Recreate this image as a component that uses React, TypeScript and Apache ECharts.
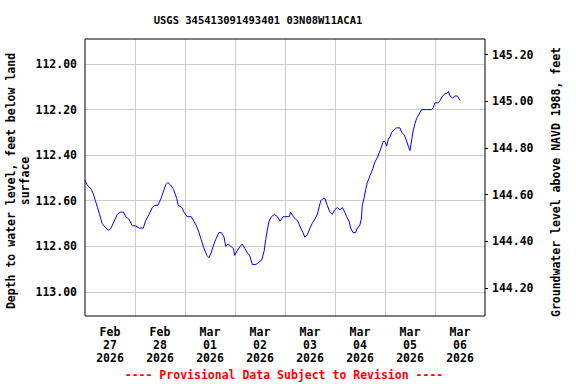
import React, { useEffect, useRef } from "react";
import * as echarts from "echarts";

const TITLE = "USGS 345413091493401 03N08W11ACA1";
const LEFT_NAME = "Depth to water level, feet below land\nsurface";
const RIGHT_NAME = "Groundwater level above NAVD 1988, feet";
const FOOTER = "---- Provisional Data Subject to Revision ----";

const X_LABELS = [
  "Feb\n27\n2026", "Feb\n28\n2026", "Mar\n01\n2026", "Mar\n02\n2026",
  "Mar\n03\n2026", "Mar\n04\n2026", "Mar\n05\n2026", "Mar\n06\n2026",
];
const START = "2026-02-27 00:00";
const END = "2026-03-07 00:00";
const LEFT_TICKS = [112.0, 112.2, 112.4, 112.6, 112.8, 113.0];
const RIGHT_TICKS = [144.2, 144.4, 144.6, 144.8, 145.0, 145.2];
const LEFT_RANGE = [111.89, 113.106];
const RIGHT_RANGE = [144.079, 145.2675];

const TIMES = [
  "2026-02-27 00:00", "2026-02-27 01:00", "2026-02-27 03:00", "2026-02-27 04:00", "2026-02-27 05:00",
  "2026-02-27 06:00", "2026-02-27 07:00", "2026-02-27 08:15", "2026-02-27 10:00", "2026-02-27 11:30",
  "2026-02-27 12:30", "2026-02-27 14:00", "2026-02-27 15:30", "2026-02-27 17:00", "2026-02-27 18:30",
  "2026-02-27 19:30", "2026-02-27 21:00", "2026-02-27 22:45", "2026-02-28 00:15", "2026-02-28 02:00",
  "2026-02-28 04:00", "2026-02-28 05:00", "2026-02-28 06:45", "2026-02-28 08:15", "2026-02-28 09:30",
  "2026-02-28 11:00", "2026-02-28 12:30", "2026-02-28 14:00", "2026-02-28 14:45", "2026-02-28 15:45",
  "2026-02-28 17:00", "2026-02-28 18:30", "2026-02-28 20:00", "2026-02-28 20:45", "2026-02-28 22:30",
  "2026-02-28 23:30", "2026-03-01 01:00", "2026-03-01 03:00", "2026-03-01 04:15", "2026-03-01 05:30",
  "2026-03-01 06:45", "2026-03-01 07:45", "2026-03-01 08:45", "2026-03-01 10:30", "2026-03-01 11:30",
  "2026-03-01 12:30", "2026-03-01 13:30", "2026-03-01 14:45", "2026-03-01 16:15", "2026-03-01 17:30",
  "2026-03-01 18:45", "2026-03-01 19:30", "2026-03-01 20:40", "2026-03-01 22:00", "2026-03-01 23:15",
  "2026-03-01 23:50", "2026-03-02 01:00", "2026-03-02 02:30", "2026-03-02 03:30", "2026-03-02 04:45",
  "2026-03-02 06:00", "2026-03-02 07:00", "2026-03-02 08:20", "2026-03-02 10:00", "2026-03-02 11:30",
  "2026-03-02 12:50", "2026-03-02 14:00", "2026-03-02 14:45", "2026-03-02 15:30", "2026-03-02 16:20",
  "2026-03-02 17:30", "2026-03-02 19:00", "2026-03-02 20:20", "2026-03-02 21:35", "2026-03-02 23:10",
  "2026-03-03 02:00", "2026-03-03 02:45", "2026-03-03 04:00", "2026-03-03 05:00", "2026-03-03 06:15",
  "2026-03-03 07:30", "2026-03-03 08:40", "2026-03-03 09:30", "2026-03-03 10:40", "2026-03-03 12:00",
  "2026-03-03 13:00", "2026-03-03 14:25", "2026-03-03 15:30", "2026-03-03 16:20", "2026-03-03 17:10",
  "2026-03-03 18:15", "2026-03-03 19:10", "2026-03-03 20:15", "2026-03-03 21:35", "2026-03-03 22:40",
  "2026-03-03 23:50", "2026-03-04 01:05", "2026-03-04 02:25", "2026-03-04 03:30", "2026-03-04 04:40",
  "2026-03-04 05:35", "2026-03-04 06:45", "2026-03-04 07:30", "2026-03-04 08:40", "2026-03-04 09:55",
  "2026-03-04 10:40", "2026-03-04 11:50", "2026-03-04 12:40", "2026-03-04 13:05", "2026-03-04 13:55",
  "2026-03-04 14:45", "2026-03-04 15:30", "2026-03-04 16:50", "2026-03-04 18:05", "2026-03-04 19:10",
  "2026-03-04 20:20", "2026-03-04 21:15", "2026-03-04 22:25", "2026-03-04 23:10", "2026-03-05 00:00",
  "2026-03-05 00:50", "2026-03-05 01:35", "2026-03-05 02:25", "2026-03-05 03:10", "2026-03-05 04:20",
  "2026-03-05 05:35", "2026-03-05 07:10", "2026-03-05 08:00", "2026-03-05 09:10", "2026-03-05 10:05",
  "2026-03-05 11:10", "2026-03-05 12:00", "2026-03-05 12:50", "2026-03-05 13:35", "2026-03-05 14:25",
  "2026-03-05 15:10", "2026-03-05 16:20", "2026-03-05 17:35", "2026-03-05 20:00", "2026-03-05 22:25",
  "2026-03-05 23:10", "2026-03-06 00:00", "2026-03-06 01:35", "2026-03-06 02:25", "2026-03-06 03:40",
  "2026-03-06 04:50", "2026-03-06 05:35", "2026-03-06 06:25", "2026-03-06 07:10", "2026-03-06 08:30",
  "2026-03-06 09:35", "2026-03-06 10:45", "2026-03-06 12:00",
];

const DEPTH_FT = [
  112.51, 112.53, 112.55, 112.57, 112.60,
  112.63, 112.66, 112.70, 112.72, 112.73,
  112.72, 112.69, 112.66, 112.65, 112.65,
  112.67, 112.68, 112.71, 112.71, 112.72,
  112.72, 112.69, 112.66, 112.63, 112.62,
  112.62, 112.59, 112.55, 112.53, 112.52,
  112.53, 112.55, 112.59, 112.62, 112.63,
  112.65, 112.67, 112.67, 112.69, 112.71,
  112.74, 112.77, 112.80, 112.84, 112.85,
  112.83, 112.80, 112.77, 112.74, 112.74,
  112.76, 112.80, 112.79, 112.80, 112.81,
  112.84, 112.82, 112.80, 112.79, 112.81,
  112.83, 112.84, 112.88, 112.88, 112.87,
  112.86, 112.82, 112.77, 112.73, 112.69,
  112.67, 112.66, 112.67, 112.69, 112.67,
  112.67, 112.65, 112.67, 112.68, 112.69,
  112.72, 112.74, 112.76, 112.75, 112.72,
  112.70, 112.68, 112.66, 112.63, 112.60,
  112.59, 112.59, 112.62, 112.65, 112.66,
  112.64, 112.63, 112.64, 112.63, 112.65,
  112.67, 112.69, 112.72, 112.74, 112.74,
  112.72, 112.71, 112.68, 112.62, 112.59,
  112.55, 112.52, 112.49, 112.46, 112.43,
  112.41, 112.39, 112.36, 112.34, 112.34,
  112.36, 112.33, 112.32, 112.30, 112.29,
  112.28, 112.28, 112.30, 112.31, 112.33,
  112.36, 112.38, 112.33, 112.29, 112.26,
  112.24, 112.22, 112.20, 112.20, 112.20,
  112.19, 112.17, 112.17, 112.16, 112.14,
  112.13, 112.13, 112.12, 112.14, 112.15,
  112.14, 112.14, 112.16,
];

const FONT = "'DejaVu Sans Mono', 'Liberation Mono', monospace";

function toMs(t: string): number {
  const [d, hm] = t.split(" ");
  const [y, mo, da] = d.split("-").map(Number);
  const [h, mi] = hm.split(":").map(Number);
  return Date.UTC(y, mo - 1, da, h, mi);
}
function hoursFromStart(t: string): number {
  return (toMs(t) - toMs(START)) / 3600000;
}
function isTick(v: number, ticks: number[]): boolean {
  return ticks.some((t) => Math.abs(t - v) < 1e-6);
}

export default function App() {
  const ref = useRef<HTMLDivElement>(null);
  useEffect(() => {
    if (!ref.current) return;
    const chart = echarts.init(ref.current, null, { renderer: "svg" });
    const data = TIMES.map((t, i) => [hoursFromStart(t), DEPTH_FT[i]]);
    const totalHours = hoursFromStart(END);
    const textBase = { fontFamily: FONT, fontWeight: "bold", fill: "#000" };
    chart.setOption({
      animation: false,
      backgroundColor: "#fff",
      grid: {
        left: 85,
        right: 91,
        top: 39,
        bottom: 68,
        show: true,
        borderColor: "#000",
        borderWidth: 1,
        backgroundColor: "transparent",
        z: 10,
      },
      xAxis: [
        {
          type: "value",
          min: 0,
          max: totalHours,
          interval: 24,
          axisLine: { show: false },
          axisTick: { show: false },
          axisLabel: { show: false },
          splitLine: { show: true, showMinLine: false, showMaxLine: false, lineStyle: { color: "#cccccc", width: 1 } },
        },
        {
          type: "category",
          data: X_LABELS,
          boundaryGap: true,
          position: "bottom",
          axisLine: { show: false },
          axisTick: { show: false },
          splitLine: { show: false },
          axisLabel: {
            interval: 0,
            margin: 9,
            color: "#000",
            fontFamily: FONT,
            fontWeight: "bold",
            fontSize: 11.5,
            lineHeight: 13,
          },
        },
      ],
      yAxis: [
        {
          type: "value",
          position: "left",
          inverse: true,
          min: LEFT_RANGE[0],
          max: LEFT_RANGE[1],
          splitNumber: 6,
          axisLine: { show: false },
          axisTick: { show: false },
          splitLine: { show: true, showMinLine: false, showMaxLine: false, lineStyle: { color: "#cccccc", width: 1 } },
          axisLabel: {
            showMinLabel: false,
            showMaxLabel: false,
            margin: 8,
            color: "#000",
            fontFamily: FONT,
            fontWeight: "bold",
            fontSize: 11.5,
            formatter: (v: number) => (isTick(v, LEFT_TICKS) ? v.toFixed(2) : ""),
          },
        },
        {
          type: "value",
          position: "right",
          min: RIGHT_RANGE[0],
          max: RIGHT_RANGE[1],
          splitNumber: 6,
          axisLine: { show: false },
          axisTick: {
            show: true,
            inside: false,
            length: 3,
            customValues: RIGHT_TICKS,
            lineStyle: { color: "#000", width: 1 },
          },
          splitLine: { show: false },
          axisLabel: {
            customValues: RIGHT_TICKS,
            showMinLabel: true,
            showMaxLabel: true,
            margin: 7,
            color: "#000",
            fontFamily: FONT,
            fontWeight: "bold",
            fontSize: 11.5,
            formatter: (v: number) => v.toFixed(2),
          },
        },
      ],
      series: [
        {
          type: "line",
          xAxisIndex: 0,
          yAxisIndex: 0,
          data,
          showSymbol: false,
          symbol: "none",
          lineStyle: { color: "#0000ff", width: 1 },
          z: 5,
        },
      ],
      graphic: [
        {
          type: "text",
          x: 258,
          y: 20,
          style: { ...textBase, text: TITLE, fontSize: 10.5, textAlign: "center", textVerticalAlign: "middle" },
        },
        {
          type: "text",
          x: 18,
          y: 181,
          rotation: Math.PI / 2,
          style: { ...textBase, text: LEFT_NAME, fontSize: 11.5, lineHeight: 14, textAlign: "center", textVerticalAlign: "middle" },
        },
        {
          type: "text",
          x: 556,
          y: 182,
          rotation: Math.PI / 2,
          style: { ...textBase, text: RIGHT_NAME, fontSize: 11.5, textAlign: "center", textVerticalAlign: "middle" },
        },
        {
          type: "text",
          x: 284,
          y: 375,
          style: { ...textBase, text: FOOTER, fill: "#ff0000", fontSize: 11.5, textAlign: "center", textVerticalAlign: "middle" },
        },
      ],
    });
    return () => chart.dispose();
  }, []);
  return (
    <div
      ref={ref}
      style={{ position: "fixed", left: 0, top: 0, width: 576, height: 384, background: "#fff" }}
    />
  );
}
